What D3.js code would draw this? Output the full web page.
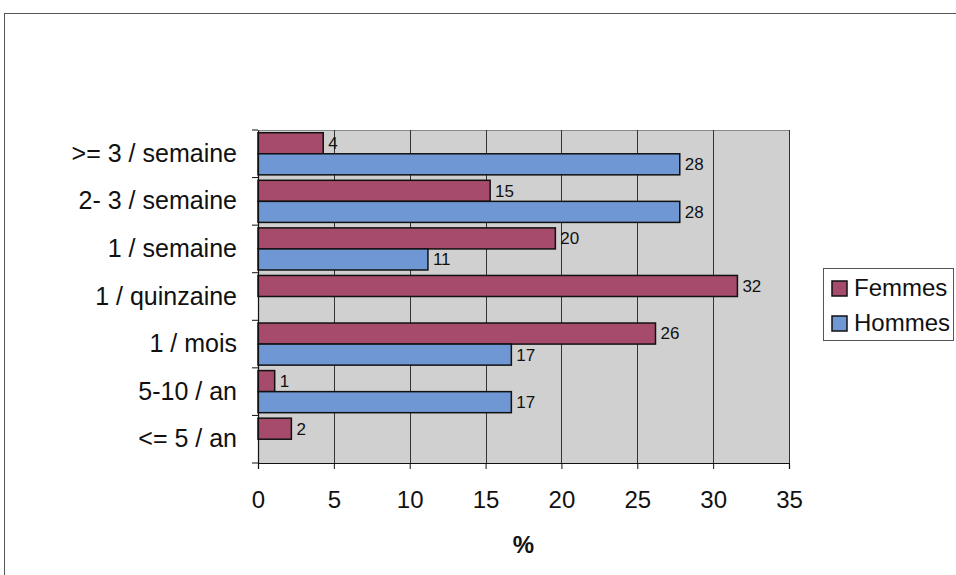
<!DOCTYPE html>
<html><head><meta charset="utf-8">
<script src="https://cdn.jsdelivr.net/npm/d3@7"></script>
<style>
html,body{margin:0;padding:0;background:#fff;}
svg{display:block;font-family:"Liberation Sans",Arial,sans-serif;}
</style></head>
<body>
<svg id="chart" width="956" height="575"></svg>
<script>
const categories = [">= 3 / semaine", "2- 3 / semaine", "1 / semaine", "1 / quinzaine", "1 / mois", "5-10 / an", "<= 5 / an"];
const seriesNames = ["Femmes", "Hommes"];
const femmes = [4.3, 15.3, 19.6, 31.6, 26.2, 1.1, 2.2];
const hommes = [27.8, 27.8, 11.2, null, 16.7, 16.7, null];
const xTicks = [0, 5, 10, 15, 20, 25, 30, 35];
const colors = ["#a64b6c", "#6f97d3"];
const axisTitle = "%";

const svg = d3.select("#chart");
const m = {left: 258, right: 789, top: 130, bottom: 463};
const FONT = "Liberation Sans, Arial, sans-serif";

// outer frame
svg.append("rect").attr("x", 4.5).attr("y", 13.5).attr("width", 960).attr("height", 600)
  .attr("fill", "none").attr("stroke", "#555").attr("stroke-width", 1);

const x = d3.scaleLinear().domain([0, 35]).range([m.left, m.right]);
const y = d3.scaleBand().domain(categories).range([m.top, m.bottom]).paddingInner(0).paddingOuter(0);
const inner = d3.scaleBand().domain(seriesNames).range([0, y.bandwidth()]).paddingInner(0).paddingOuter(0.13);

// plot background
svg.append("rect").attr("x", m.left).attr("y", m.top).attr("width", m.right - m.left).attr("height", m.bottom - m.top)
  .attr("fill", "#d0d0d0");
svg.append("line").attr("x1", m.left).attr("x2", m.right).attr("y1", m.top + 0.5).attr("y2", m.top + 0.5)
  .attr("stroke", "#888").attr("stroke-width", 1);

// gridlines
svg.append("g").selectAll("line").data(xTicks.slice(1)).join("line")
  .attr("x1", d => Math.round(x(d)) + 0.5).attr("x2", d => Math.round(x(d)) + 0.5)
  .attr("y1", m.top).attr("y2", m.bottom)
  .attr("stroke", "#333").attr("stroke-width", 1);

// bars
const data = [];
categories.forEach((c, i) => {
  [femmes, hommes].forEach((arr, s) => {
    if (arr[i] != null) data.push({cat: c, series: seriesNames[s], value: arr[i], s});
  });
});
const g = svg.append("g");
g.selectAll("rect").data(data).join("rect")
  .attr("x", x(0))
  .attr("y", d => y(d.cat) + inner(d.series))
  .attr("width", d => x(d.value) - x(0))
  .attr("height", inner.bandwidth())
  .attr("fill", d => colors[d.s])
  .attr("stroke", "#111").attr("stroke-width", 1.5);

g.selectAll("text").data(data).join("text")
  .attr("x", d => x(d.value) + 5)
  .attr("y", d => y(d.cat) + inner(d.series) + inner.bandwidth() / 2)
  .attr("dy", "0.35em")
  .attr("font-size", 17).attr("fill", "#111")
  .text(d => d3.format(".0f")(d.value));

// x axis
const xAxis = svg.append("g").attr("transform", `translate(0,${m.bottom})`)
  .call(d3.axisBottom(x).tickValues(xTicks).tickSize(6).tickPadding(22).tickFormat(d3.format("d")));
xAxis.select(".domain").attr("stroke", "#111").attr("stroke-width", 1.2);
xAxis.selectAll(".tick line").attr("stroke", "#111");
xAxis.selectAll("text").attr("font-size", 24).attr("fill", "#111").attr("font-family", FONT);

// y axis
const yAxis = svg.append("g").attr("transform", `translate(${m.left},0)`)
  .call(d3.axisLeft(y).tickSize(0).tickPadding(21));
yAxis.select(".domain").attr("stroke", "#111").attr("stroke-width", 1.2);
yAxis.selectAll("text").attr("font-size", 25).attr("fill", "#111").attr("font-family", FONT);
// category boundary ticks
svg.append("g").selectAll("line").data(d3.range(categories.length + 1)).join("line")
  .attr("x1", m.left - 6).attr("x2", m.left)
  .attr("y1", i => m.top + i * y.step()).attr("y2", i => m.top + i * y.step())
  .attr("stroke", "#111").attr("stroke-width", 1);

// axis title
svg.append("text").attr("x", (m.left + m.right) / 2).attr("y", 553)
  .attr("text-anchor", "middle").attr("font-size", 24).attr("font-weight", "bold").attr("fill", "#111")
  .text(axisTitle);

// legend
const lg = svg.append("g").attr("transform", "translate(823,268)");
lg.append("rect").attr("x", 0.5).attr("y", 0.5).attr("width", 130).attr("height", 72)
  .attr("fill", "#fff").attr("stroke", "#555").attr("stroke-width", 1);
seriesNames.forEach((n, i) => {
  const yy = 20 + i * 35;
  lg.append("rect").attr("x", 9).attr("y", yy - 7).attr("width", 15).attr("height", 15)
    .attr("fill", colors[i]).attr("stroke", "#111").attr("stroke-width", 1.5);
  lg.append("text").attr("x", 31).attr("y", yy).attr("dy", "0.35em")
    .attr("font-size", 24).attr("fill", "#111").text(n);
});
</script>
</body></html>
